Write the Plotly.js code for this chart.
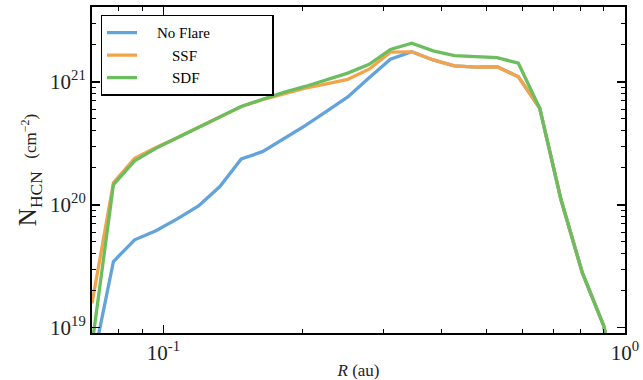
<!DOCTYPE html>
<html>
<head>
<meta charset="utf-8">
<script src="https://cdn.plot.ly/plotly-3.0.1.min.js"></script>
<style>html,body{margin:0;padding:0;background:#fff;}#chart{width:643px;height:380px;}</style>
</head>
<body>
<div id="chart"></div>
<script>
// Radius grid (au)
const radius = [0.0700, 0.0779, 0.0866, 0.0963, 0.1071, 0.1191, 0.1325, 0.1474, 0.1639, 0.1823,
                0.2028, 0.2255, 0.2508, 0.2790, 0.3103, 0.3451, 0.3839, 0.4270, 0.4749, 0.5282,
                0.5875, 0.6535, 0.7268, 0.8084, 0.8991, 1.0000];
// HCN column density (cm^-2)
const noFlare = [4.8e18, 3.46e19, 5.19e19, 6.15e19, 7.69e19, 9.8e19, 1.41e20, 2.36e20, 2.71e20, 3.48e20,
                 4.41e20, 5.77e20, 7.55e20, 1.08e21, 1.53e21, 1.76e21, 1.51e21, 1.35e21, 1.32e21, 1.33e21,
                 1.10e21, 6.11e20, 1.10e20, 2.79e19, 1.04e19, 1.5e18];
const ssf = [1.58e19, 1.51e20, 2.39e20, 2.93e20, 3.51e20, 4.27e20, 5.19e20, 6.31e20, 7.17e20, 7.98e20,
             8.89e20, 9.64e20, 1.05e21, 1.27e21, 1.75e21, 1.76e21, 1.51e21, 1.35e21, 1.32e21, 1.33e21,
             1.10e21, 6.11e20, 1.10e20, 2.79e19, 1.04e19, 1.5e18];
const sdf = [7.2e18, 1.46e20, 2.28e20, 2.88e20, 3.51e20, 4.27e20, 5.19e20, 6.31e20, 7.23e20, 8.22e20,
             9.19e20, 1.04e21, 1.18e21, 1.39e21, 1.84e21, 2.07e21, 1.79e21, 1.64e21, 1.61e21, 1.58e21,
             1.42e21, 6.11e20, 1.10e20, 2.79e19, 1.04e19, 1.5e18];
const seriesNames = ["No Flare", "SSF", "SDF"];
const seriesColors = ["#62a3dc", "#f3a44b", "#6cbd5f"];
const xTickVals = [0.1, 1];
const xTickText = ["10<sup>-1</sup>", "10<sup>0</sup>"];
const yTickVals = [1e19, 1e20, 1e21];
const yTickText = ["10<sup>19</sup>", "10<sup>20</sup>", "10<sup>21</sup>"];

const NB = "\u00a0";
const legendLabels = [
  NB.repeat(4) + seriesNames[0] + NB.repeat(15),
  NB.repeat(8) + seriesNames[1],
  NB.repeat(8) + seriesNames[2]
];
const ys = [noFlare, ssf, sdf];
const traces = ys.map((y, i) => ({
  x: radius, y: y, type: "scatter", mode: "lines",
  name: legendLabels[i],
  line: {color: seriesColors[i], width: 3.3}
}));

const serif = "Liberation Serif, Times New Roman, serif";
const layout = {
  width: 643, height: 380,
  margin: {l: 92, r: 18, t: 7, b: 47},
  paper_bgcolor: "#fff", plot_bgcolor: "#fff",
  showlegend: true,
  legend: {
    x: 0.016, y: 0.976, xanchor: "left", yanchor: "top",
    bordercolor: "#000", borderwidth: 1.5, bgcolor: "#fff",
    font: {family: serif, size: 15, color: "#000"},
    tracegroupgap: 0
  },
  xaxis: {
    type: "log", range: [Math.log10(0.07), 0],
    tickvals: xTickVals, ticktext: xTickText,
    ticks: "inside", ticklen: 8, tickwidth: 1.5, tickcolor: "#000",
    showline: true, linecolor: "#000", linewidth: 2, mirror: "allticks",
    showgrid: false, zeroline: false,
    minor: {dtick: "D1", ticks: "inside", ticklen: 4, tickwidth: 1, tickcolor: "#000", showgrid: false},
    tickfont: {family: serif, size: 21, color: "#222"},
    title: {text: "<i>R</i> (au)", font: {family: serif, size: 17, color: "#222"}, standoff: 8}
  },
  yaxis: {
    type: "log", range: [18.957, 21.61],
    tickvals: yTickVals, ticktext: yTickText,
    ticks: "inside", ticklen: 8, tickwidth: 1.5, tickcolor: "#000",
    showline: true, linecolor: "#000", linewidth: 2, mirror: "allticks",
    showgrid: false, zeroline: false,
    minor: {dtick: "D1", ticks: "inside", ticklen: 4, tickwidth: 1, tickcolor: "#000", showgrid: false},
    tickfont: {family: serif, size: 21, color: "#222"},
    title: {text: "N<sub>HCN</sub>  <span style='font-size:17px'>(cm<sup>\u22122</sup>)</span>",
            font: {family: serif, size: 25, color: "#222"}, standoff: 6}
  }
};
Plotly.newPlot("chart", traces, layout, {displayModeBar: false, staticPlot: true});
</script>
</body>
</html>
